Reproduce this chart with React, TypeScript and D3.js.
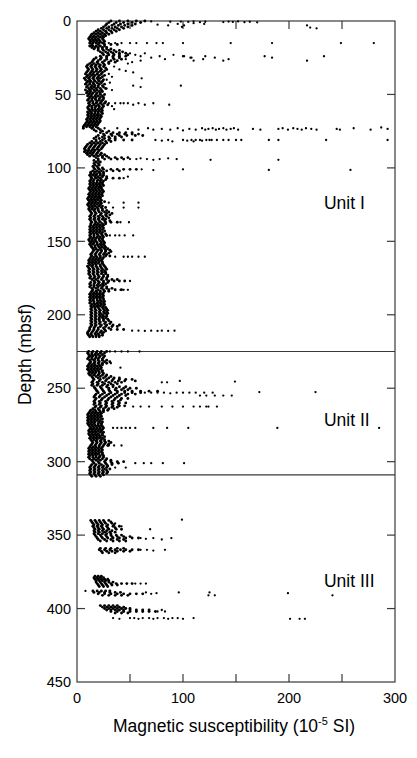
import React from "react";
import * as d3 from "d3";

// ---- axis / label data ----
const xTickLabels = [0, 100, 200, 300];
const xMinorTicks = [50, 100, 150, 200, 250];
const yTickLabels = [0, 50, 100, 150, 200, 250, 300, 350, 400, 450];
const unitBoundaries = [225, 309];
const unitLabels: [string, number, number][] = [
  ["Unit I", 233, 128],
  ["Unit II", 233, 276],
  ["Unit III", 233, 385],
];

// ---- main trend band: [depth, values...] ----
const unitIBand: number[][] = [
  [0, 32, 40, 48, 56, 64], [1, 30, 37, 44, 52, 60], [2, 28, 35, 41, 48, 55], [3, 27, 33, 39, 45, 52],
  [4, 25, 30, 36, 42, 48], [5, 23, 28, 33, 38, 44], [6, 20, 25, 30, 35, 40], [7, 18, 22, 27, 32, 37],
  [8, 16, 20, 24, 28, 33], [9, 14, 18, 22, 26, 30], [10, 13, 16, 20, 24, 27], [11, 12, 15, 18, 22, 25],
  [12, 11, 14, 17, 20, 24], [13, 12, 15, 18, 21, 25], [14, 13, 16, 19, 22, 26], [15, 12, 15, 18, 21, 24],
  [16, 14, 20, 26, 32, 38], [17, 12, 15, 18, 22, 26], [18, 14, 17, 20, 24, 28], [19, 16, 20, 24, 28, 32],
  [20, 20, 25, 30, 35, 40], [21, 22, 27, 32, 37, 43], [22, 24, 29, 34, 40, 46], [23, 25, 30, 35, 40, 48],
  [24, 22, 28, 34, 40, 46], [25, 18, 23, 28, 34, 40], [26, 16, 22, 28, 35, 42], [27, 15, 20, 26, 32, 38],
  [28, 14, 19, 24, 30, 36], [29, 12, 16, 20, 25, 30], [30, 10, 14, 18, 22, 26], [31, 9, 13, 17, 21, 25],
  [32, 10, 14, 18, 22, 27], [33, 11, 15, 19, 23, 28], [34, 10, 14, 18, 22, 26], [35, 9, 13, 16, 20, 24],
  [36, 8, 12, 15, 19, 23], [37, 10, 14, 17, 21, 26], [38, 9, 12, 16, 20, 24], [39, 7, 11, 15, 19, 22],
  [40, 8, 12, 16, 20, 25], [41, 10, 13, 17, 21, 24], [42, 9, 12, 15, 19, 23], [43, 8, 12, 16, 21, 26],
  [44, 10, 14, 17, 20, 24], [45, 9, 13, 16, 20, 25], [46, 11, 14, 18, 22, 27], [47, 8, 12, 16, 19, 23],
  [48, 10, 13, 17, 21, 24], [49, 9, 12, 15, 19, 22], [50, 11, 14, 18, 22, 26], [51, 10, 13, 17, 20, 24],
  [52, 12, 15, 18, 22, 25], [53, 11, 14, 17, 21, 25], [54, 10, 14, 18, 21, 24], [55, 12, 15, 19, 23, 27],
  [56, 11, 15, 18, 22, 26], [57, 12, 16, 20, 24, 29], [58, 11, 14, 18, 21, 25], [59, 10, 14, 17, 21, 24],
  [60, 11, 14, 17, 20, 23], [61, 12, 15, 18, 21, 24], [62, 10, 13, 17, 20, 23], [63, 11, 14, 17, 20, 24],
  [64, 10, 13, 16, 19, 22], [65, 11, 14, 17, 20, 23], [66, 10, 13, 16, 19, 22], [67, 9, 12, 15, 18, 21],
  [68, 10, 13, 16, 19, 22], [69, 9, 12, 15, 18, 21], [70, 8, 11, 14, 17, 20], [71, 7, 10, 13, 16, 19],
  [72, 6, 9, 12, 15, 18], [73, 6, 14, 20], [74, 16, 22], [75, 18, 24, 30],
  [76, 22, 28, 34, 40, 46, 52], [77, 25, 32, 38, 45, 52, 58], [78, 20, 26, 33, 40, 47, 55, 62], [79, 18, 24, 30, 36, 42],
  [80, 16, 21, 26, 31, 36], [81, 18, 24, 30, 36, 44, 52], [82, 14, 18, 22, 27, 32], [83, 12, 16, 20, 24, 28],
  [84, 10, 14, 18, 22, 26], [85, 9, 13, 17, 21, 25], [86, 8, 12, 16, 20, 24], [87, 7, 11, 15, 19, 23],
  [88, 8, 11, 14, 17, 21], [89, 7, 10, 13, 16, 20], [90, 9, 12, 15, 19, 23], [91, 10, 14, 18, 22, 26],
  [92, 12, 16, 20, 24, 28], [93, 18, 24, 30, 36, 42, 48], [94, 20, 26, 32, 38, 44], [95, 16, 20],
  [96, 18, 22], [97, 16, 20], [98, 17, 21], [99, 15, 19],
  [100, 16, 20, 24], [101, 17, 21, 25, 32, 38, 44, 50, 56], [102, 15, 19, 23, 28, 34, 40], [103, 13, 17, 21, 25],
  [104, 13, 16, 19, 22, 25], [105, 12, 15, 18, 22, 25], [106, 13, 17, 20, 24, 28], [107, 14, 18, 22, 28, 34, 40],
  [108, 13, 16, 20, 23, 27], [109, 12, 15, 19, 22, 25], [110, 13, 16, 19, 22, 24], [111, 12, 15, 18, 21, 24],
  [112, 13, 16, 19, 22, 25], [113, 12, 15, 18, 21, 23], [114, 11, 14, 17, 20, 23], [115, 12, 15, 18, 21, 24],
  [116, 13, 16, 19, 22, 25], [117, 12, 15, 18, 21, 24], [118, 11, 14, 17, 20, 23], [119, 12, 15, 18, 21, 24],
  [120, 11, 14, 17, 20, 22], [121, 10, 13, 16, 19, 22], [122, 11, 14, 17, 20, 23], [123, 12, 15, 18, 22, 26],
  [124, 11, 14, 17, 20, 23], [125, 10, 13, 16, 19, 22], [126, 11, 14, 17, 21, 24], [127, 12, 15, 19, 23, 27],
  [128, 11, 14, 17, 20, 24], [129, 12, 16, 20, 24, 28], [130, 13, 17, 21, 26, 30], [131, 14, 18, 23, 28, 33],
  [132, 13, 17, 22, 27, 31], [133, 12, 16, 20, 24, 28], [134, 13, 17, 21, 25, 30], [135, 12, 16, 20, 24, 27],
  [136, 13, 17, 21, 26, 31], [137, 14, 18, 22, 27, 32, 38], [138, 13, 17, 20, 24, 27], [139, 13, 16, 19, 22, 25],
  [140, 12, 15, 18, 21, 24], [141, 13, 16, 19, 22, 25], [142, 12, 15, 18, 21, 24], [143, 13, 16, 19, 22, 26],
  [144, 12, 15, 18, 21, 24], [145, 13, 16, 19, 23, 27], [146, 12, 16, 20, 24, 28], [147, 13, 16, 19, 22, 25],
  [148, 12, 15, 18, 21, 24], [149, 11, 14, 17, 21, 24], [150, 12, 15, 18, 22, 25], [151, 13, 16, 19, 23, 26],
  [152, 12, 15, 19, 22, 25], [153, 13, 17, 20, 23, 26], [154, 14, 17, 21, 24, 27], [155, 15, 18, 22, 26, 29],
  [156, 16, 20, 23, 27, 31], [157, 15, 19, 23, 27, 32], [158, 14, 18, 22, 26, 30], [159, 13, 17, 21, 25, 28],
  [160, 14, 18, 22, 27, 31], [161, 13, 16, 19, 22, 25], [162, 12, 15, 18, 21, 24], [163, 11, 14, 17, 20, 23],
  [164, 12, 15, 18, 21, 24], [165, 11, 14, 17, 20, 24], [166, 12, 15, 18, 22, 25], [167, 10, 14, 18, 22, 26],
  [168, 11, 15, 19, 23, 27], [169, 12, 16, 20, 24, 28], [170, 11, 15, 19, 23, 26], [171, 12, 16, 20, 24, 27],
  [172, 11, 15, 19, 23, 27], [173, 12, 16, 20, 25, 29], [174, 13, 17, 21, 25, 29], [175, 12, 16, 20, 24, 28],
  [176, 14, 18, 23, 28, 33, 38], [177, 16, 20, 25, 30, 35, 40, 45], [178, 13, 17, 21, 25, 29], [179, 12, 16, 20, 24, 27],
  [180, 13, 16, 19, 22, 25], [181, 12, 16, 20, 24, 28], [182, 14, 18, 23, 28, 33], [183, 15, 20, 25, 30, 36, 42],
  [184, 14, 18, 22, 26, 30], [185, 13, 16, 19, 22, 25], [186, 12, 15, 18, 21, 24], [187, 13, 16, 19, 22, 25],
  [188, 12, 15, 18, 21, 24], [189, 13, 16, 19, 22, 25], [190, 12, 15, 19, 22, 25], [191, 13, 16, 20, 23, 26],
  [192, 12, 16, 19, 22, 25], [193, 14, 17, 20, 23, 26], [194, 13, 16, 19, 22, 25], [195, 14, 17, 20, 24, 27],
  [196, 13, 17, 21, 25, 28], [197, 14, 18, 22, 26, 29], [198, 13, 17, 21, 25, 28], [199, 14, 18, 22, 26, 29],
  [200, 13, 17, 21, 24, 28], [201, 14, 18, 22, 25, 28], [202, 13, 17, 21, 24, 27], [203, 14, 18, 21, 25, 29],
  [204, 13, 17, 21, 25, 30], [205, 14, 18, 22, 27, 32], [206, 13, 17, 21, 26, 31], [207, 14, 18, 23, 28, 34, 40],
  [208, 13, 17, 22, 27, 33, 38], [209, 12, 16, 20, 25, 30], [210, 12, 16, 20, 26, 32, 38, 44], [211, 11, 15, 19, 23, 27],
  [212, 10, 14, 18, 22, 25], [213, 10, 13, 17, 20, 24], [214, 11, 14, 18, 21, 24], [215, 12, 15, 18, 21],
];

const unitIIBand: number[][] = [
  [225, 11, 15, 19, 23, 28], [226, 10, 14, 18, 22, 26], [227, 11, 14, 17, 20, 24], [228, 12, 15, 18, 22, 26],
  [229, 11, 14, 18, 21, 25], [230, 10, 14, 17, 20, 24], [231, 12, 16, 20, 24, 28], [232, 13, 17, 21, 26, 31],
  [233, 12, 16, 20, 24, 28], [234, 11, 14, 17, 21, 24], [235, 10, 13, 16, 19, 22], [236, 11, 14, 17, 20, 23],
  [237, 10, 13, 16, 19, 22], [238, 11, 14, 17, 20, 24], [239, 12, 15, 18, 21, 24], [240, 11, 14, 17, 21, 25],
  [241, 12, 16, 20, 24, 28], [242, 14, 18, 22, 27, 32], [243, 15, 20, 25, 30, 35, 40], [244, 16, 22, 28, 34, 40, 46, 52],
  [245, 15, 21, 27, 33, 39, 45, 55], [246, 14, 19, 24, 30, 36, 42], [247, 15, 20, 26, 32, 38], [248, 14, 19, 24, 29, 34],
  [249, 16, 22, 28, 34, 40, 46], [250, 17, 23, 30, 37, 44, 50, 56], [251, 18, 24, 30, 36, 42, 48], [252, 19, 25, 31, 38, 45, 52, 60, 68, 76],
  [253, 20, 26, 32, 38, 45, 52, 60], [254, 18, 24, 30, 36, 42, 48, 55], [255, 17, 22, 28, 34, 40, 46], [256, 16, 21, 26, 32, 38],
  [257, 18, 24, 30, 36, 42, 48], [258, 17, 23, 29, 35, 41], [259, 16, 21, 27, 33, 39], [260, 17, 22, 28, 34, 40, 46],
  [261, 16, 21, 27, 33, 39], [262, 18, 23, 28, 34, 40, 45], [263, 17, 22, 27, 33, 38], [264, 15, 20, 25, 30, 35],
  [265, 13, 17, 21, 25, 29], [266, 12, 15, 18, 22, 25], [267, 11, 14, 17, 20, 23], [268, 10, 13, 16, 19, 22],
  [269, 11, 14, 17, 20, 23], [270, 10, 13, 16, 19, 22], [271, 11, 14, 17, 20, 24], [272, 10, 13, 16, 19, 22],
  [273, 11, 14, 17, 21, 24], [274, 10, 13, 16, 20, 23], [275, 11, 14, 17, 20, 23], [276, 12, 15, 18, 21, 24],
  [277, 13, 16, 19, 22, 25], [278, 12, 15, 18, 21, 24], [279, 11, 14, 17, 20, 23], [280, 12, 15, 18, 22, 25],
  [281, 11, 14, 17, 20, 24], [282, 12, 15, 18, 21, 24], [283, 13, 16, 19, 22, 26], [284, 12, 15, 18, 21, 24],
  [285, 13, 16, 19, 23, 26], [286, 14, 18, 22, 26, 30], [287, 15, 19, 23, 27, 32], [288, 14, 18, 22, 26, 30],
  [289, 13, 17, 21, 25, 29], [290, 12, 15, 18, 21, 24], [291, 11, 14, 17, 20, 23], [292, 12, 15, 18, 21, 24],
  [293, 11, 14, 17, 20, 23], [294, 12, 15, 18, 21, 24], [295, 11, 14, 17, 20, 24], [296, 12, 15, 18, 22, 25],
  [297, 11, 15, 18, 21, 25], [298, 12, 16, 20, 24, 28], [299, 14, 18, 22, 27, 32], [300, 15, 20, 26, 32, 38, 44],
  [301, 16, 21, 27, 33, 39], [302, 14, 18, 23, 28, 33], [303, 13, 17, 21, 25, 29], [304, 12, 16, 20, 24, 28],
  [305, 13, 17, 21, 26, 31], [306, 12, 16, 20, 24, 28], [307, 13, 17, 21, 25, 29], [308, 12, 16, 20, 24, 28],
  [309, 13, 17, 21, 25], [310, 14, 18, 22],
];

const unitIIIBand: number[][] = [
  [340, 13, 17, 21, 25, 30], [341, 14, 18, 22, 26, 32], [342, 15, 19, 23, 27, 33], [343, 16, 20, 24, 29, 35],
  [344, 15, 19, 23, 28, 34, 40], [345, 16, 20, 24, 29, 36], [346, 17, 21, 25, 30, 37, 42], [347, 16, 20, 24, 28, 33],
  [348, 17, 21, 26, 31, 36], [349, 16, 20, 24, 28, 32], [350, 17, 22, 27, 32, 37, 42], [351, 18, 23, 28, 33, 38, 44, 50],
  [352, 19, 24, 29, 34, 40, 46, 52, 58], [353, 20, 26, 32, 38, 44], [354, 22, 28, 34, 40, 46],
  [359, 22, 27, 32, 38, 44], [360, 21, 26, 31, 36, 41, 46, 52, 58], [361, 23, 28, 33, 38, 44, 50], [362, 24, 30, 36],
  [378, 17, 20, 23], [379, 16, 19, 22, 25], [380, 17, 20, 23, 26, 29], [381, 18, 21, 24, 27, 30],
  [382, 18, 22, 26, 30, 34], [383, 19, 23, 27, 32, 37, 42, 47, 52], [384, 20, 24, 28, 33, 38], [385, 21, 25, 29],
  [388, 15, 19, 23, 27, 31], [389, 16, 21, 26, 31, 36, 41], [390, 20, 26, 32, 38, 44, 50, 56, 62], [391, 24, 30, 36, 42, 48],
  [398, 22, 26, 30, 34, 38], [399, 24, 28, 32, 36, 40, 44], [400, 26, 30, 34, 38, 42, 46, 50],
  [401, 28, 32, 36, 40, 44, 50, 56, 62, 68], [402, 32, 38, 44, 50, 56, 62, 68, 74], [403, 36, 42, 48],
];

// ---- scattered high values: [depth, susceptibility] ----
const outliers: [number, number][] = [
  [0.3, 70], [0.5, 88], [0.4, 98], [0.6, 105], [0.2, 110], [0.8, 116], [0.5, 121], [0.7, 138], [0.4, 143],
  [0.6, 147], [0.3, 152], [0.8, 158], [0.5, 163], [0.9, 170], [2.5, 76], [3, 86], [2, 95], [4, 99], [3, 101],
  [1.5, 110], [2, 120], [3, 217], [4.5, 220], [5, 226],
  [15, 25], [15, 30], [15, 36], [15, 42], [15, 50], [15, 56], [15, 66], [15, 75], [15, 81], [15, 100],
  [15, 145], [15, 184], [15, 249], [15, 280],
  [22, 50], [23, 55], [24, 60], [22, 64], [25, 70], [24, 78], [26, 83], [23, 91], [24, 100], [25, 108],
  [26, 119], [24, 101], [25, 107], [27, 110], [24, 121], [25, 130], [27, 138], [26, 143], [24, 177],
  [25, 184], [27, 217], [24, 233], [28, 52], [27, 60], [26, 46], [29, 48],
  [31, 35], [33, 40], [34, 46], [35, 53], [36, 30], [38, 33], [39, 61], [40, 28], [42, 31], [44, 53],
  [45, 60], [44, 98], [46, 28], [47, 33],
  [56, 30], [56, 36], [56, 41], [56, 44], [56, 48], [57, 53], [56, 58], [57, 64], [56, 72], [57, 87], [58, 33], [60, 35],
  [73, 26], [73, 38], [73.5, 48], [74, 58], [73, 67], [74, 72], [73.5, 80], [74, 88], [73, 95], [74.5, 100],
  [73.5, 106], [74, 112], [73, 118], [74, 121], [73.5, 124], [73, 128], [74, 131], [73.5, 134], [73, 138],
  [74, 141], [73.5, 145], [73, 148], [74, 152], [73.5, 166], [74, 173], [73.5, 190], [73, 194], [74, 199],
  [73, 204], [73.5, 208], [74, 212], [73, 216], [73.5, 221], [74, 226], [73.5, 245], [74, 248], [73, 261],
  [74, 277], [72.5, 287], [73.5, 293],
  [81, 74], [81.5, 80], [81, 86], [82, 90], [81, 100], [81.5, 104], [81, 108], [82, 110], [81, 112],
  [81.5, 118], [81, 125], [81, 116], [81, 122], [81, 127], [81, 132], [81, 138], [81, 143], [81, 150],
  [81, 155], [81, 181], [81, 190], [81, 235], [81, 293],
  [94, 50], [94, 56], [93.5, 60], [94, 66], [94.5, 72], [94, 78], [93.5, 86], [94, 94], [94.5, 126], [94.5, 190],
  [101, 61], [101.5, 72], [101, 100], [101.4, 181], [101.4, 258],
  [107, 44], [106, 48],
  [123.7, 30], [123.7, 44], [123.7, 58], [127, 34], [127, 44], [127, 58],
  [137, 41], [137, 49],
  [146, 31], [146, 36], [146, 40], [146, 45], [146, 53],
  [160.5, 36], [160.5, 44], [160.5, 48], [160.5, 52], [160.5, 58], [160.5, 64],
  [177, 50], [183, 41], [183, 44], [183, 48],
  [210.8, 52], [210.8, 58], [211, 64], [210.8, 70], [211, 76], [210.8, 80], [211, 86], [210.8, 92],
  [225, 31], [225, 36], [225, 42], [225, 48], [225, 59], [233, 32], [236, 41],
  [245.5, 149], [246, 80], [246, 85], [245, 97], [252.6, 172], [252.6, 225],
  [253, 64], [253, 70], [253, 76], [253, 82], [253.5, 88], [253, 94], [253, 100], [253, 106], [253, 112],
  [253, 120], [253, 128], [255, 116], [255, 122], [255, 130], [255, 138], [255, 146],
  [262.5, 53], [262.5, 60], [262.5, 68], [262.5, 80], [262.5, 90], [262.5, 100], [262.5, 110], [262.5, 122],
  [262.5, 116], [262.5, 124], [262.5, 132],
  [277, 34], [277, 38], [277, 42], [277, 46], [277, 50], [277, 55], [277, 72], [277, 85], [277, 105],
  [277, 189], [277, 285], [289, 30], [289, 35], [289, 42],
  [301, 55], [301, 63], [301, 70], [301, 81], [301, 101], [304, 36], [304, 46],
  [339.5, 99], [346, 69], [342, 36], [344, 42], [352, 60], [352.5, 65], [352, 72], [353, 80], [352, 89],
  [360, 60], [360, 66], [360.5, 72], [360, 83], [383, 55], [383, 60], [383, 65],
  [389, 65], [390, 70], [389.5, 75], [389, 96], [391, 124], [391, 130], [389, 125], [389.5, 199], [391, 241],
  [388, 8], [402, 76], [402, 83], [401, 80],
  [406.5, 34], [407, 40], [406.5, 50], [406.5, 54], [407, 58], [406.5, 62], [406.5, 68], [407, 72],
  [406.5, 76], [406.5, 82], [407, 86], [406.5, 90], [406.5, 95], [407, 100], [406.5, 110],
  [407, 201], [407, 210], [407, 215],
];

const W = 417;
const H = 758;
const left = 77, right = 395, top = 21, bottom = 682;
const FONT = "'Liberation Sans', Arial, Helvetica, sans-serif";

export default function App() {
  const x = d3.scaleLinear().domain([0, 300]).range([left, right]);
  const y = d3.scaleLinear().domain([0, 450]).range([top, bottom]);

  const bandPoints: [number, number][] = [];
  for (const rows of [unitIBand, unitIIBand, unitIIIBand]) {
    for (const row of rows) {
      const d = row[0];
      for (let i = 1; i < row.length; i++) bandPoints.push([d, row[i]]);
    }
  }

  const axisColor = "#3a3a3a";
  const tickLen = 8;

  return (
    <svg
      width={W}
      height={H}
      style={{ position: "absolute", left: 0, top: 0, background: "#fff" }}
      fontFamily={FONT}
    >
      <rect x={0} y={0} width={W} height={H} fill="#fff" />
      {/* frame */}
      <rect x={left} y={top} width={right - left} height={bottom - top} fill="none" stroke={axisColor} strokeWidth={1.2} />
      {/* unit boundaries */}
      {unitBoundaries.map((b) => (
        <line key={b} x1={left} x2={right} y1={y(b)} y2={y(b)} stroke={axisColor} strokeWidth={1.2} />
      ))}
      {/* x ticks (top and bottom, inward) */}
      {xMinorTicks.map((t) => (
        <g key={"xt" + t}>
          <line x1={x(t)} x2={x(t)} y1={bottom} y2={bottom - tickLen} stroke={axisColor} strokeWidth={1.2} />
          <line x1={x(t)} x2={x(t)} y1={top} y2={top + tickLen} stroke={axisColor} strokeWidth={1.2} />
        </g>
      ))}
      {/* y ticks (left and right, inward) */}
      {yTickLabels.slice(1, -1).map((t) => (
        <g key={"yt" + t}>
          <line x1={left} x2={left + tickLen} y1={y(t)} y2={y(t)} stroke={axisColor} strokeWidth={1.2} />
          <line x1={right} x2={right - tickLen} y1={y(t)} y2={y(t)} stroke={axisColor} strokeWidth={1.2} />
        </g>
      ))}
      {/* tick labels */}
      {xTickLabels.map((t) => (
        <text key={"xl" + t} x={x(t)} y={bottom + 21} textAnchor="middle" fontSize={14.5} fill="#000">
          {t}
        </text>
      ))}
      {yTickLabels.map((t) => (
        <text key={"yl" + t} x={71} y={y(t)} dy="0.36em" textAnchor="end" fontSize={14.5} fill="#000">
          {t}
        </text>
      ))}
      {/* band points */}
      {bandPoints.map(([d, v], i) => (
        <circle key={"b" + i} cx={x(v)} cy={y(d)} r={1.45} fill="#000" />
      ))}
      {/* scattered points */}
      {outliers.map(([d, v], i) => (
        <circle key={"o" + i} cx={x(v)} cy={y(d)} r={1.15} fill="#000" />
      ))}
      {/* unit labels */}
      {unitLabels.map(([label, v, d]) => (
        <text key={label} x={x(v)} y={y(d)} fontSize={17.5} fill="#000">
          {label}
        </text>
      ))}
      {/* axis titles */}
      <text x={(left + right) / 2 - 2} y={732} textAnchor="middle" fontSize={17.5} fill="#000">
        Magnetic susceptibility (10
        <tspan fontSize={11} dy={-7}>-5</tspan>
        <tspan dy={7}> SI)</tspan>
      </text>
      <text
        transform={`translate(31, ${(top + bottom) / 2 + 3}) rotate(-90)`}
        textAnchor="middle"
        fontSize={17.5}
        fill="#000"
      >
        Depth (mbsf)
      </text>
    </svg>
  );
}
